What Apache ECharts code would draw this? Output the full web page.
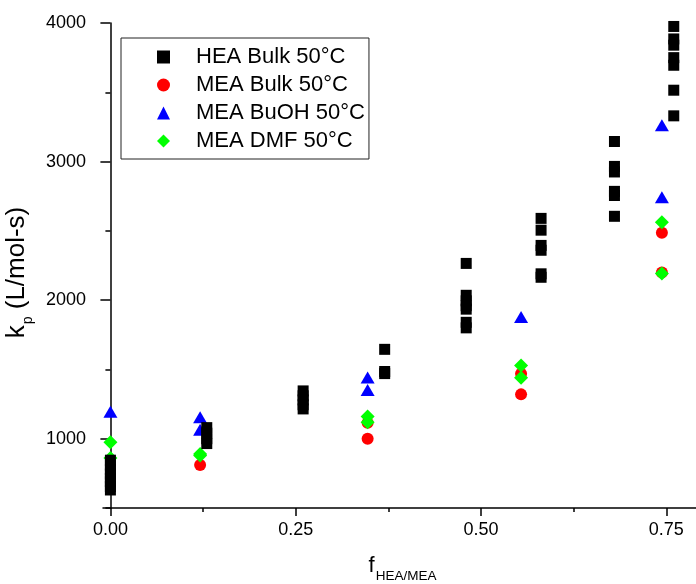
<!DOCTYPE html>
<html>
<head>
<meta charset="utf-8">
<script src="https://cdn.jsdelivr.net/npm/echarts@6/dist/echarts.min.js"></script>
<style>
html,body{margin:0;padding:0;background:#fff;}
#chart{width:696px;height:584px;}
</style>
</head>
<body>
<div id="chart"></div>
<script>
// ---- data (x = f_HEA/MEA, y = kp in L/mol-s) ----
const heaBulk = [
  [0.0, 845], [0.0, 810], [0.0, 775], [0.0, 745], [0.0, 715], [0.0, 690], [0.0, 655], [0.0, 630],
  [0.13, 1080], [0.13, 1040], [0.13, 1000], [0.13, 965],
  [0.26, 1345], [0.26, 1310], [0.26, 1280], [0.26, 1245], [0.26, 1215],
  [0.37, 1645], [0.37, 1485], [0.37, 1470],
  [0.48, 2265], [0.48, 2035], [0.48, 1995], [0.48, 1960], [0.48, 1935], [0.48, 1840], [0.48, 1800],
  [0.581, 2590], [0.581, 2505], [0.581, 2395], [0.581, 2360], [0.581, 2190], [0.581, 2165],
  [0.68, 3145], [0.68, 2965], [0.68, 2925], [0.68, 2785], [0.68, 2755], [0.68, 2605],
  [0.76, 3975], [0.76, 3885], [0.76, 3840], [0.76, 3750], [0.76, 3695], [0.76, 3515], [0.76, 3330]
];
const meaBulk = [
  [0.121, 810],
  [0.347, 1115], [0.347, 1000],
  [0.554, 1469], [0.554, 1320],
  [0.744, 2486], [0.744, 2200]
];
const meaBuOH = [
  [0.0, 1195],
  [0.121, 1154], [0.121, 1064],
  [0.347, 1442], [0.347, 1352],
  [0.554, 1879],
  [0.744, 3262], [0.744, 2742]
];
const meaDMF = [
  [0.0, 975], [0.0, 860],
  [0.121, 890], [0.121, 878],
  [0.347, 1160], [0.347, 1118],
  [0.554, 1529], [0.554, 1440],
  [0.744, 2563], [0.744, 2193]
];
const seriesNames = ['HEA Bulk 50°C', 'MEA Bulk 50°C', 'MEA BuOH 50°C', 'MEA DMF 50°C'];
const xMajorTicks = [0, 0.25, 0.5, 0.75];
const xMinorTicks = [0.125, 0.375, 0.625];
const yMajorTicks = [1000, 2000, 3000, 4000];
const yMinorTicks = [500, 1500, 2500, 3500];

const FONT = '"Liberation Sans", Arial, sans-serif';
const chart = echarts.init(document.getElementById('chart'), null, {renderer: 'canvas'});

const axisLine = {show: true, lineStyle: {color: '#000', width: 1.5}};
const option = {
  animation: false,
  backgroundColor: '#fff',
  textStyle: {fontFamily: FONT},
  grid: {left: 103, right: 0, top: 23, bottom: 76, containLabel: false, outerBoundsMode: 'none'},
  legend: {
    orient: 'vertical',
    left: 121, top: 38,
    padding: [8, 4, 7, 36],
    itemWidth: 13, itemHeight: 13, itemGap: 6,
    borderColor: '#222', borderWidth: 1,
    textStyle: {fontFamily: FONT, fontSize: 22, color: '#000', lineHeight: 22, padding: [0, 0, 0, 21]},
    data: seriesNames
  },
  xAxis: [{
    type: 'value', min: -0.01, max: 0.79,
    axisLine: axisLine,
    splitLine: {show: false},
    axisTick: {show: true, inside: false, length: 8, customValues: xMajorTicks, lineStyle: {color: '#000', width: 1.5}},
    axisLabel: {customValues: xMajorTicks, margin: 13, fontSize: 18, color: '#000', fontFamily: FONT,
      formatter: v => v.toFixed(2)},
    name: '{f|f}{s|HEA/MEA}', nameLocation: 'middle', nameGap: 47,
    nameTextStyle: {fontFamily: FONT, color: '#000', padding: [0, 0, 0, 6], rich: {
      f: {fontSize: 22, fontFamily: FONT, color: '#000', verticalAlign: 'top'},
      s: {fontSize: 13.5, fontFamily: FONT, color: '#000', padding: [14, 0, 0, 1]}
    }}
  }, {
    type: 'value', min: -0.01, max: 0.79, position: 'bottom',
    axisLine: {show: false}, splitLine: {show: false},
    axisTick: {show: true, length: 4, customValues: xMinorTicks, lineStyle: {color: '#000', width: 1.5}},
    axisLabel: {show: false}
  }],
  yAxis: [{
    type: 'value', min: 500, max: 4000,
    axisLine: axisLine,
    splitLine: {show: false},
    axisTick: {show: true, inside: false, length: 10, customValues: yMajorTicks, lineStyle: {color: '#000', width: 1.5}},
    axisLabel: {customValues: yMajorTicks, margin: 17, fontSize: 18, color: '#000', fontFamily: FONT,
      formatter: v => String(v)},
    name: '{k|k}{p|p}{t| (L/mol-s)}', nameLocation: 'middle', nameGap: 67,
    nameTextStyle: {fontFamily: FONT, color: '#000', padding: [0, 14, 0, 0], rich: {
      k: {fontSize: 26, fontFamily: FONT, color: '#000', verticalAlign: 'top'},
      p: {fontSize: 14, fontFamily: FONT, color: '#000', padding: [17, 0, 0, 1]},
      t: {fontSize: 26, fontFamily: FONT, color: '#000', verticalAlign: 'top'}
    }}
  }, {
    type: 'value', min: 500, max: 4000, position: 'left',
    axisLine: {show: false}, splitLine: {show: false},
    axisTick: {show: true, length: 5, customValues: yMinorTicks, lineStyle: {color: '#000', width: 1.5}},
    axisLabel: {show: false}
  }],
  series: [
    {name: seriesNames[0], type: 'scatter', data: heaBulk, symbol: 'rect', symbolSize: 11,
      itemStyle: {color: '#000000', opacity: 1}, z: 5},
    {name: seriesNames[1], type: 'scatter', data: meaBulk, symbol: 'circle', symbolSize: 12,
      itemStyle: {color: '#ff0000', opacity: 1}, z: 2},
    {name: seriesNames[2], type: 'scatter', data: meaBuOH, symbol: 'triangle', symbolSize: [14, 12],
      itemStyle: {color: '#0000ff', opacity: 1}, z: 3},
    {name: seriesNames[3], type: 'scatter', data: meaDMF, symbol: 'diamond', symbolSize: 14,
      itemStyle: {color: '#00ff00', opacity: 1}, z: 4}
  ]
};
chart.setOption(option);
</script>
</body>
</html>
